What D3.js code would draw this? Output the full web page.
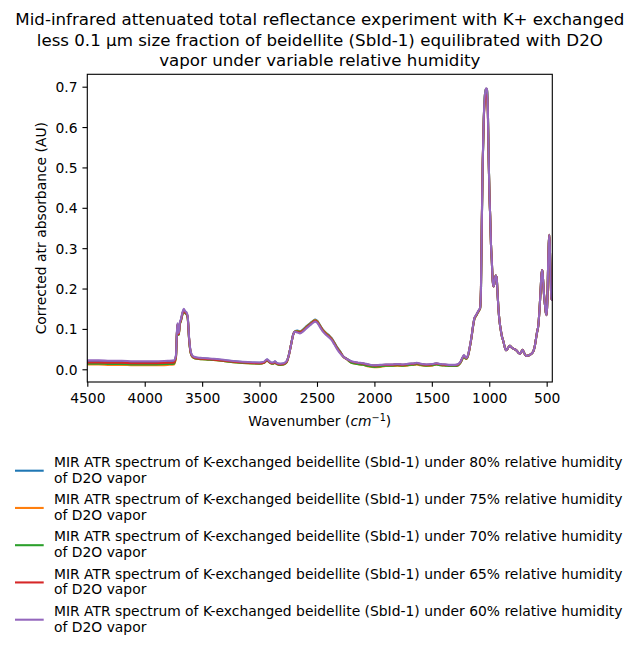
<!DOCTYPE html>
<html><head><meta charset="utf-8">
<script src="https://cdn.jsdelivr.net/npm/d3@7"></script>
<style>
body{margin:0;background:#fff}
text{font-family:"DejaVu Sans",sans-serif;fill:#000}
</style>
</head><body><svg id="c" width="638" height="650"></svg>
<script>
const wavenumbers = [
4500,4400,4300,4200,4100,4000,3900,3800,3745,3728,
3716,3709,3703,3695,3685,3672,3660,3648,3636,3626,
3614,3602,3590,3570,3540,3500,3450,3400,3300,3200,
3100,3000,2960,2935,2918,2895,2880,2866,2850,2820,
2790,2765,2745,2725,2708,2693,2670,2648,2620,2590,
2560,2535,2515,2498,2475,2450,2420,2395,2372,2350,
2325,2300,2270,2240,2200,2150,2100,2050,2000,1950,
1900,1850,1800,1750,1700,1650,1630,1600,1550,1500,
1460,1420,1380,1340,1300,1270,1250,1232,1220,1208,
1197,1185,1170,1155,1140,1128,1115,1100,1088,1080,
1072,1065,1057,1048,1038,1028,1020,1012,1005,998,
992,985,978,970,963,957,950,943,935,928,
920,910,900,890,878,865,854,845,832,820,
805,790,775,760,745,733,722,710,700,688,
675,660,645,630,617,605,595,585,573,563,
553,545,538,532,524,515,507,500,494,488,
482,477,472,466,460,455,451];

const rh80 = [
0.019,0.019,0.018,0.018,0.017,0.017,0.017,0.018,0.019,0.033,
0.112,0.090,0.088,0.113,0.122,0.138,0.148,0.142,0.139,0.130,
0.078,0.046,0.035,0.030,0.028,0.027,0.026,0.025,0.022,0.019,
0.017,0.016,0.018,0.024,0.020,0.016,0.016,0.019,0.015,0.013,
0.014,0.019,0.036,0.063,0.086,0.094,0.096,0.094,0.099,0.107,
0.114,0.120,0.123,0.120,0.110,0.099,0.090,0.084,0.077,0.067,
0.055,0.045,0.032,0.026,0.019,0.016,0.014,0.011,0.009,0.010,
0.011,0.011,0.012,0.011,0.013,0.014,0.015,0.013,0.011,0.012,
0.014,0.012,0.011,0.010,0.010,0.012,0.018,0.029,0.034,0.029,
0.027,0.034,0.054,0.079,0.109,0.127,0.133,0.141,0.147,0.151,
0.198,0.355,0.505,0.615,0.678,0.694,0.692,0.640,0.522,0.432,
0.380,0.310,0.270,0.220,0.205,0.210,0.225,0.232,0.225,0.190,
0.150,0.118,0.098,0.082,0.070,0.055,0.047,0.049,0.055,0.058,
0.054,0.051,0.049,0.046,0.041,0.038,0.043,0.048,0.043,0.036,
0.033,0.034,0.036,0.039,0.044,0.055,0.072,0.090,0.108,0.145,
0.195,0.235,0.246,0.225,0.188,0.160,0.140,0.134,0.170,0.250,
0.310,0.333,0.300,0.230,0.180,0.172,0.172];

const rh75 = [
0.012,0.012,0.011,0.011,0.010,0.010,0.010,0.011,0.012,0.029,
0.110,0.088,0.086,0.111,0.120,0.136,0.146,0.140,0.137,0.128,
0.076,0.044,0.033,0.028,0.026,0.025,0.024,0.023,0.020,0.017,
0.015,0.014,0.016,0.022,0.018,0.014,0.014,0.017,0.013,0.011,
0.012,0.017,0.035,0.062,0.085,0.093,0.095,0.093,0.098,0.106,
0.113,0.119,0.122,0.119,0.109,0.098,0.089,0.083,0.076,0.066,
0.054,0.044,0.031,0.025,0.016,0.013,0.011,0.007,0.005,0.006,
0.008,0.008,0.009,0.008,0.010,0.011,0.012,0.010,0.008,0.009,
0.012,0.010,0.009,0.008,0.008,0.010,0.016,0.027,0.032,0.027,
0.026,0.033,0.053,0.078,0.108,0.126,0.132,0.140,0.146,0.150,
0.200,0.360,0.510,0.618,0.679,0.695,0.693,0.640,0.521,0.431,
0.380,0.310,0.270,0.220,0.205,0.210,0.225,0.232,0.225,0.190,
0.150,0.118,0.098,0.082,0.070,0.055,0.047,0.049,0.055,0.058,
0.054,0.051,0.049,0.046,0.041,0.038,0.043,0.048,0.043,0.036,
0.033,0.034,0.036,0.039,0.044,0.055,0.072,0.090,0.108,0.145,
0.195,0.235,0.246,0.225,0.188,0.160,0.140,0.134,0.170,0.250,
0.310,0.333,0.300,0.230,0.180,0.172,0.172];

const rh70 = [
0.014,0.014,0.013,0.013,0.012,0.012,0.012,0.013,0.014,0.030,
0.109,0.087,0.085,0.110,0.119,0.135,0.145,0.139,0.136,0.127,
0.075,0.043,0.033,0.028,0.026,0.025,0.024,0.023,0.020,0.017,
0.015,0.014,0.016,0.022,0.018,0.014,0.014,0.017,0.013,0.011,
0.012,0.017,0.035,0.062,0.085,0.093,0.094,0.092,0.097,0.105,
0.112,0.118,0.121,0.118,0.108,0.097,0.088,0.082,0.075,0.065,
0.053,0.043,0.031,0.025,0.016,0.013,0.011,0.008,0.006,0.007,
0.009,0.009,0.010,0.009,0.011,0.012,0.013,0.011,0.009,0.010,
0.012,0.010,0.009,0.008,0.008,0.010,0.016,0.027,0.032,0.027,
0.026,0.033,0.053,0.078,0.108,0.126,0.132,0.140,0.146,0.150,
0.199,0.358,0.508,0.618,0.679,0.695,0.693,0.641,0.522,0.432,
0.380,0.310,0.270,0.220,0.205,0.210,0.225,0.232,0.225,0.190,
0.150,0.118,0.098,0.082,0.070,0.055,0.047,0.049,0.055,0.058,
0.054,0.051,0.049,0.046,0.041,0.038,0.043,0.048,0.043,0.036,
0.033,0.034,0.036,0.039,0.044,0.055,0.072,0.090,0.108,0.145,
0.195,0.235,0.246,0.225,0.188,0.160,0.140,0.134,0.170,0.250,
0.310,0.333,0.300,0.230,0.180,0.172,0.172];

const rh65 = [
0.017,0.017,0.016,0.016,0.015,0.015,0.015,0.016,0.017,0.032,
0.111,0.089,0.087,0.112,0.121,0.137,0.147,0.141,0.138,0.129,
0.077,0.045,0.034,0.029,0.027,0.026,0.025,0.024,0.021,0.018,
0.016,0.015,0.017,0.023,0.019,0.015,0.015,0.018,0.014,0.012,
0.013,0.018,0.035,0.062,0.085,0.093,0.093,0.091,0.096,0.104,
0.111,0.117,0.120,0.117,0.107,0.096,0.087,0.081,0.074,0.064,
0.052,0.042,0.031,0.025,0.019,0.016,0.014,0.011,0.009,0.010,
0.011,0.011,0.012,0.011,0.013,0.014,0.015,0.013,0.011,0.012,
0.014,0.012,0.011,0.010,0.010,0.012,0.018,0.029,0.034,0.029,
0.027,0.034,0.054,0.079,0.109,0.127,0.133,0.141,0.147,0.151,
0.205,0.370,0.515,0.615,0.665,0.680,0.678,0.630,0.515,0.428,
0.380,0.310,0.270,0.220,0.205,0.210,0.225,0.232,0.225,0.190,
0.150,0.118,0.098,0.082,0.070,0.055,0.047,0.049,0.055,0.058,
0.054,0.051,0.049,0.046,0.041,0.038,0.043,0.048,0.043,0.036,
0.033,0.034,0.036,0.039,0.044,0.055,0.072,0.090,0.108,0.145,
0.195,0.235,0.246,0.225,0.188,0.160,0.140,0.134,0.170,0.250,
0.310,0.333,0.300,0.230,0.180,0.172,0.172];

const rh60 = [
0.022,0.022,0.021,0.021,0.020,0.020,0.020,0.021,0.022,0.035,
0.114,0.092,0.090,0.115,0.124,0.140,0.150,0.144,0.141,0.132,
0.080,0.048,0.036,0.031,0.029,0.028,0.027,0.026,0.023,0.020,
0.018,0.017,0.019,0.025,0.021,0.017,0.017,0.020,0.016,0.014,
0.015,0.020,0.035,0.062,0.085,0.093,0.091,0.089,0.094,0.102,
0.109,0.115,0.118,0.115,0.105,0.094,0.085,0.079,0.072,0.062,
0.050,0.040,0.031,0.025,0.020,0.017,0.015,0.012,0.010,0.011,
0.012,0.012,0.013,0.012,0.014,0.015,0.016,0.014,0.012,0.013,
0.015,0.013,0.012,0.011,0.011,0.013,0.019,0.030,0.035,0.030,
0.028,0.035,0.055,0.080,0.110,0.128,0.134,0.142,0.148,0.152,
0.200,0.360,0.510,0.620,0.680,0.696,0.694,0.640,0.520,0.430,
0.380,0.310,0.270,0.220,0.205,0.210,0.225,0.232,0.225,0.190,
0.150,0.118,0.098,0.082,0.070,0.055,0.047,0.049,0.055,0.058,
0.054,0.051,0.049,0.046,0.041,0.038,0.043,0.048,0.043,0.036,
0.033,0.034,0.036,0.039,0.044,0.055,0.072,0.090,0.108,0.145,
0.195,0.235,0.246,0.225,0.188,0.160,0.140,0.134,0.170,0.250,
0.310,0.333,0.300,0.230,0.180,0.172,0.172];

const humidityLevels = ["80%","75%","70%","65%","60%"];
const seriesValues = [rh80, rh75, rh70, rh65, rh60];
const colors = ["#1f77b4","#ff7f0e","#2ca02c","#d62728","#9467bd"];
const xTicks = [4500,4000,3500,3000,2500,2000,1500,1000,500];
const yTicks = [0.0,0.1,0.2,0.3,0.4,0.5,0.6,0.7];
const titleLines = [
  "Mid-infrared attenuated total reflectance experiment with K+ exchanged",
  "less 0.1 µm size fraction of beidellite (SbId-1) equilibrated with D2O",
  "vapor under variable relative humidity"];
const xDomain = [4500, 451];
const yDomain = [-0.0315, 0.7307];

const svg = d3.select("#c");
const L = 87.3, R = 552.3, T = 74.3, B = 382;
const x = d3.scaleLinear().domain(xDomain).range([L, R]);
const y = d3.scaleLinear().domain(yDomain).range([B, T]);
const fs = 13.89, tick = 4.86, pad = 4.86;

svg.append("rect").attr("width",638).attr("height",650).attr("fill","#fff");
svg.append("defs").append("clipPath").attr("id","clip")
  .append("rect").attr("x",L).attr("y",T).attr("width",R-L).attr("height",B-T);

// title
svg.append("g").selectAll("text").data(titleLines).join("text")
  .attr("x",(L+R)/2).attr("y",(d,i)=>25+i*20.5).attr("text-anchor","middle")
  .style("font-size","16.67px").text(d=>d);

// lines
const line = d3.line().x((d,i)=>x(wavenumbers[i])).y(d=>y(d)).curve(d3.curveMonotoneX);
svg.append("g").attr("clip-path","url(#clip)").selectAll("path").data(seriesValues).join("path")
  .attr("d", d=>line(d)).attr("fill","none").attr("stroke",(d,i)=>colors[i])
  .attr("stroke-width",2.08).attr("stroke-linejoin","round").attr("stroke-linecap","square");

// axes
const xa = svg.append("g").attr("transform",`translate(0,${B})`)
  .call(d3.axisBottom(x).tickValues(xTicks).tickSize(tick).tickPadding(pad).tickFormat(d3.format("d")));
xa.select(".domain").remove();
xa.selectAll("line").attr("stroke","#000").attr("stroke-width",1.11);
xa.selectAll("text").attr("y",21).attr("dy",0).style("font-size",fs+"px").attr("fill","#000");

const ya = svg.append("g").attr("transform",`translate(${L},0)`)
  .call(d3.axisLeft(y).tickValues(yTicks).tickSize(tick).tickPadding(pad).tickFormat(d3.format(".1f")));
ya.select(".domain").remove();
ya.selectAll("line").attr("stroke","#000").attr("stroke-width",1.11);
ya.selectAll("text").attr("dy","0.36em").style("font-size",fs+"px").attr("fill","#000");

svg.append("rect").attr("x",L).attr("y",T).attr("width",R-L).attr("height",B-T)
  .attr("fill","none").attr("stroke","#000").attr("stroke-width",1.11);

// axis labels
const xl = svg.append("text").attr("x",(L+R)/2).attr("y",426).attr("text-anchor","middle").style("font-size",fs+"px");
xl.append("tspan").text("Wavenumber (");
xl.append("tspan").style("font-style","italic").text("cm");
xl.append("tspan").attr("dy",-5.5).style("font-size","9.7px").text("−1");
xl.append("tspan").attr("dy",5.5).text(")");

svg.append("text").attr("transform",`translate(46,${(T+B)/2}) rotate(-90)`)
  .attr("text-anchor","middle").style("font-size",fs+"px").text("Corrected atr absorbance (AU)");

// legend
const lg = svg.append("g");
humidityLevels.forEach((h,i)=>{
  const cy = 470.7 + i*37.25;
  lg.append("line").attr("x1",15).attr("x2",43.7).attr("y1",cy).attr("y2",cy)
    .attr("stroke",colors[i]).attr("stroke-width",2.08);
  const t = lg.append("text").attr("x",54).attr("y",cy-3.8).style("font-size",fs+"px");
  t.append("tspan").attr("x",54).text(`MIR ATR spectrum of K-exchanged beidellite (SbId-1) under ${h} relative humidity`);
  t.append("tspan").attr("x",54).attr("dy",15.8).text("of D2O vapor");
});
</script></body></html>
